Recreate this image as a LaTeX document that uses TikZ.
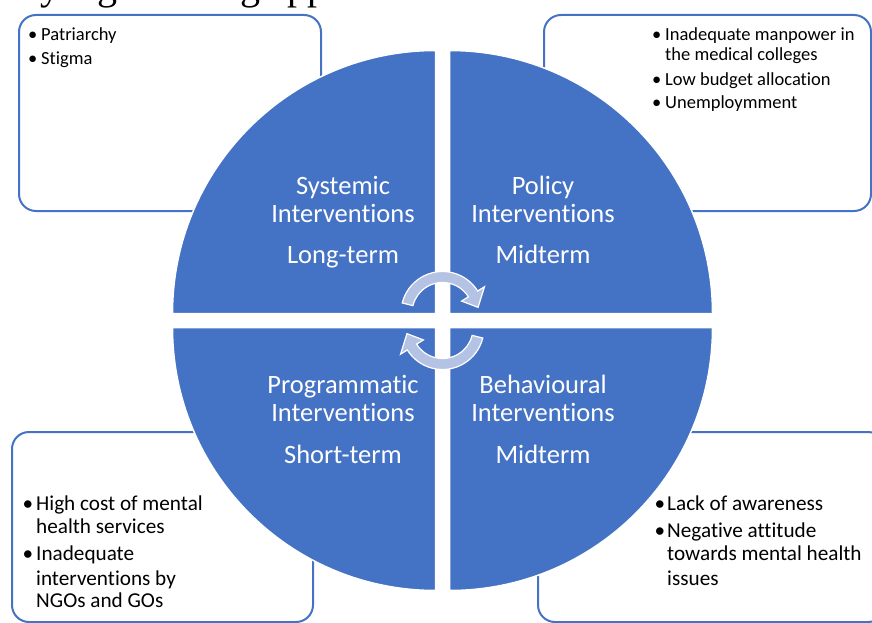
\documentclass[tikz,border=0pt]{standalone}
\usepackage{fontspec}
\setmainfont{Carlito}[Ligatures=NoCommon]
\newfontfamily\pageserif{Liberation Serif}
\definecolor{qblue}{HTML}{4472C4}
\definecolor{arrowfill}{HTML}{B4C3E4}
\begin{document}
\begin{tikzpicture}[x=1pt,y=-1pt,
  quad/.style={fill=qblue, draw=white, line width=1.5pt},
  infobox/.style={draw=qblue, line width=2pt, rounded corners=17pt, fill=white},
  qlabel/.style={text=white, font=\fontsize{26.5}{30}\selectfont, anchor=base, inner sep=0pt},
  smalltxt/.style={font=\fontsize{18.5}{20}\selectfont, anchor=base west, inner sep=0pt},
  smallbul/.style={font=\fontsize{18.5}{20}\selectfont, anchor=base, inner sep=0pt},
  bigtxt/.style={font=\fontsize{21.2}{23}\selectfont, anchor=base west, inner sep=0pt},
  bigbul/.style={font=\fontsize{21.2}{23}\selectfont, anchor=base, inner sep=0pt},
  cyc/.style={fill=arrowfill, draw=white, line width=1.2pt, line join=miter}]

\useasboundingbox (0,0) rectangle (872,623);
\clip (0,0) rectangle (872,623);

% cropped line of page text above the figure (only its descenders show)
\node[font=\pageserif\fontsize{40}{40}\selectfont, anchor=base west, inner sep=0pt] (pagetext) at (20,-0.5) {by a governing approach};

% boxes
\draw[infobox] (19,15) rectangle (321,211);
\draw[infobox] (544,15) rectangle (871,211);
\draw[infobox] (12,432) rectangle (313,622);
\draw[infobox] (538,432) rectangle (885,622);

% quadrants
\coordinate (qtl) at (435.5,313.5);
\coordinate (qtr) at (449.5,313.5);
\coordinate (qbr) at (449.5,327.5);
\coordinate (qbl) at (435.5,327.5);
\path[quad] (qtl) -- ([shift={(qtl)}]180:263) arc[start angle=180,end angle=270,radius=263] -- cycle;
\path[quad] (qtr) -- ([shift={(qtr)}]270:263) arc[start angle=270,end angle=360,radius=263] -- cycle;
\path[quad] (qbr) -- ([shift={(qbr)}]0:263) arc[start angle=0,end angle=90,radius=263] -- cycle;
\path[quad] (qbl) -- ([shift={(qbl)}]90:263) arc[start angle=90,end angle=180,radius=263] -- cycle;

% cycle arrows
\coordinate (cA) at (442.5,313);
\coordinate (cB) at (442.5,328);
\path[cyc] ([shift={(cA)}]194:41.5) arc[start angle=194,end angle=328,radius=41.5]
  -- ([shift={(cA)}]328:49.5) -- ([shift={(cA)}]351:36) -- ([shift={(cA)}]328:22.5)
  -- ([shift={(cA)}]328:30.5) arc[start angle=328,end angle=194,radius=30.5] -- cycle;
\path[cyc] ([shift={(cB)}]14:41.5) arc[start angle=14,end angle=148,radius=41.5]
  -- ([shift={(cB)}]148:49.5) -- ([shift={(cB)}]171:36) -- ([shift={(cB)}]148:22.5)
  -- ([shift={(cB)}]148:30.5) arc[start angle=148,end angle=14,radius=30.5] -- cycle;

% quadrant labels
\node[qlabel] (sys1) at (343,194) {Systemic};
\node[qlabel] (sys2) at (343,222.2) {Interventions};
\node[qlabel] (sys3) at (343,263) {Long-term};
\node[qlabel] (pol1) at (543,194) {Policy};
\node[qlabel] (pol2) at (543,222.2) {Interventions};
\node[qlabel] (pol3) at (543,263) {Midterm};
\node[qlabel] (prg1) at (343,393.3) {Programmatic};
\node[qlabel] (prg2) at (343,421.8) {Interventions};
\node[qlabel] (prg3) at (343,463) {Short-term};
\node[qlabel] (beh1) at (543,393.3) {Behavioural};
\node[qlabel] (beh2) at (543,421.8) {Interventions};
\node[qlabel] (beh3) at (543,463) {Midterm};

% top-left box text
\node[smallbul] (tlb1) at (32.7,40.7) {•};
\node[smalltxt] (tlt1) at (41,40.7) {Patriarchy};
\node[smallbul] (tlb2) at (32.7,65) {•};
\node[smalltxt] (tlt2) at (41,65) {Stigma};

% top-right box text
\node[smallbul] (trb1) at (656.7,40.7) {•};
\node[smalltxt] (trt1) at (665,40.7) {Inadequate manpower in};
\node[smalltxt] (trt1b) at (665,60.7) {the medical colleges};
\node[smallbul] (trb2) at (656.7,86) {•};
\node[smalltxt] (trt2) at (665,86) {Low budget allocation};
\node[smallbul] (trb3) at (656.7,108.7) {•};
\node[smalltxt] (trt3) at (665,108.7) {Unemploymment};

% bottom-left box text
\node[bigbul] (blb1) at (28,510.7) {•};
\node[bigtxt] (blt1) at (36,510.7) {High cost of mental};
\node[bigtxt] (blt1b) at (36,533.3) {health services};
\node[bigbul] (blb2) at (28,560.7) {•};
\node[bigtxt] (blt2) at (36,560.7) {Inadequate};
\node[bigtxt] (blt2b) at (36,585) {interventions by};
\node[bigtxt] (blt2c) at (36,607.7) {NGOs and GOs};

% bottom-right box text
\node[bigbul] (brb1) at (660,510.7) {•};
\node[bigtxt] (brt1) at (667,510.7) {Lack of awareness};
\node[bigbul] (brb2) at (660,537.5) {•};
\node[bigtxt] (brt2) at (667,537.5) {Negative attitude};
\node[bigtxt] (brt2b) at (667,560.7) {towards mental health};
\node[bigtxt] (brt2c) at (667,585) {issues};
\end{tikzpicture}
\end{document}
